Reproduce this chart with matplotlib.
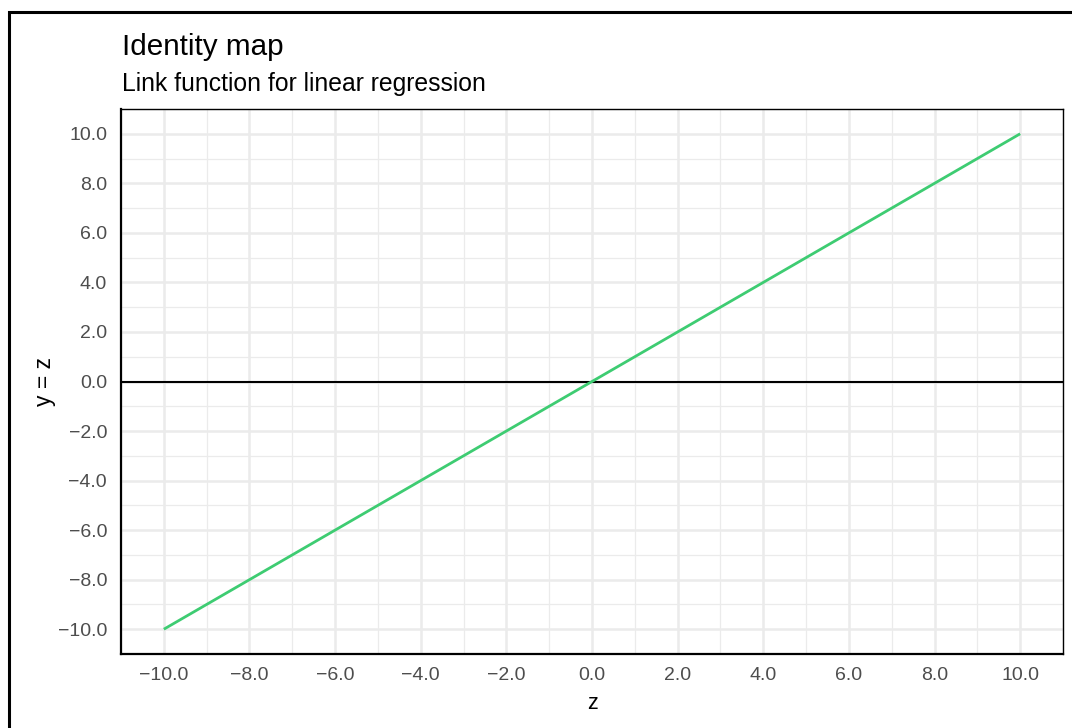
import numpy as np
import matplotlib.pyplot as plt
from matplotlib.patches import Rectangle
from matplotlib.ticker import MultipleLocator, FuncFormatter

plt.rcParams['font.family'] = ['Liberation Sans', 'DejaVu Sans']

# identity link: y = z
z = [-10.0, 10.0]
y = [-10.0, 10.0]

title = "Identity map"
subtitle = "Link function for linear regression"


def fmt(v, pos):
    return f"{v:.1f}".replace('-', '\u2212')


fig = plt.figure(figsize=(10.72, 7.28), dpi=100)
ax = fig.add_axes([121 / 1072, 1 - 654 / 728, (1063 - 121) / 1072, (654 - 109) / 728])

ax.plot(z, y, color='#3ecc72', lw=2.0, zorder=3, solid_capstyle='butt')
ax.axhline(0, color='black', lw=1.5, zorder=2)

ax.set_xlim(-11, 11)
ax.set_ylim(-11, 11)
ax.xaxis.set_major_locator(MultipleLocator(2))
ax.yaxis.set_major_locator(MultipleLocator(2))
ax.xaxis.set_minor_locator(MultipleLocator(1))
ax.yaxis.set_minor_locator(MultipleLocator(1))
ax.xaxis.set_major_formatter(FuncFormatter(fmt))
ax.yaxis.set_major_formatter(FuncFormatter(fmt))
ax.grid(which='major', color='#ebebeb', lw=1.8, zorder=0)
ax.grid(which='minor', color='#ebebeb', lw=0.9, zorder=0)
ax.set_axisbelow(True)
ax.tick_params(which='both', length=0, labelsize=14, labelcolor='#4d4d4d')
ax.tick_params(axis='x', pad=9)
ax.tick_params(axis='y', pad=10)
for s in ['top', 'right']:
    ax.spines[s].set_linewidth(1.0)
for s in ['left', 'bottom']:
    ax.spines[s].set_linewidth(1.6)

ax.set_xlabel('z', fontsize=15.5, labelpad=7)
ax.set_ylabel('y = z', fontsize=16.5, labelpad=1)

fig.text(122 / 1072, 1 - 55 / 728, title, fontsize=21.3, ha='left', va='baseline')
fig.text(122 / 1072, 1 - 91 / 728, subtitle, fontsize=17.8, ha='left', va='baseline')

# outer plot border (runs off the right/bottom edge)
fig.patches.append(Rectangle((9 / 1072, -0.1), 1.2, 1 - 12 / 728 + 0.1,
                             transform=fig.transFigure, fill=False,
                             edgecolor='black', lw=2.2))

fig.savefig('out.png', dpi=100)
